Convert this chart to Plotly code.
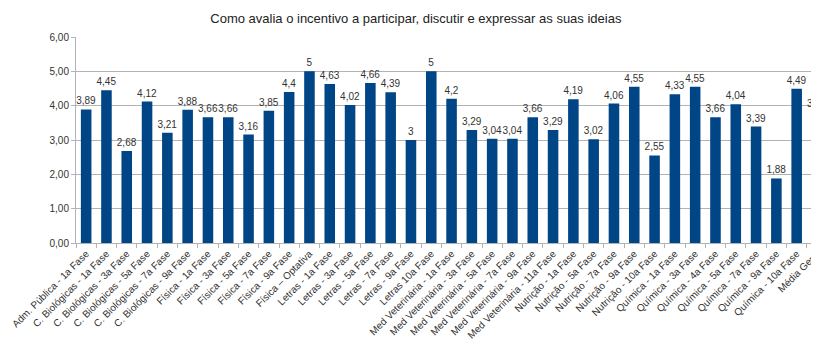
import plotly.graph_objects as go

categories = [
    "Adm. Pública - 1a Fase", "C. Biológicas - 1a Fase", "C. Biológicas - 3a Fase",
    "C. Biológicas - 5a Fase", "C. Biológicas - 7a Fase", "C. Biológicas - 9a Fase",
    "Física - 1a Fase", "Física - 3a Fase", "Física - 5a Fase", "Física - 7a Fase",
    "Física - 9a Fase", "Física – Optativa", "Letras - 1a Fase", "Letras - 3a Fase",
    "Letras - 5a Fase", "Letras - 7a Fase", "Letras - 9a Fase", "Letras 10a Fase",
    "Med Veterinária - 1a Fase", "Med Veterinária - 3a Fase", "Med Veterinária - 5a Fase",
    "Med Veterinária - 7a Fase", "Med Veterinária - 9a Fase", "Med Veterinária - 11a Fase",
    "Nutrição - 1a Fase", "Nutrição - 5a Fase", "Nutrição - 7a Fase", "Nutrição - 9a Fase",
    "Nutrição - 10a Fase", "Química - 1a Fase", "Química - 3a Fase", "Química - 4a Fase",
    "Química - 5a Fase", "Química - 7a Fase", "Química - 9a Fase", "Química - 10a Fase",
    "Média Geral",
]
values = [3.89, 4.45, 2.68, 4.12, 3.21, 3.88, 3.66, 3.66, 3.16, 3.85,
          4.4, 5, 4.63, 4.02, 4.66, 4.39, 3, 5,
          4.2, 3.29, 3.04, 3.04, 3.66, 3.29,
          4.19, 3.02, 4.06, 4.55, 2.55,
          4.33, 4.55, 3.66, 4.04, 3.39, 1.88, 4.49,
          3.81]
y_ticks = [0, 1, 2, 3, 4, 5, 6]

labels = [f"{v:g}".replace(".", ",") for v in values]
font = "Liberation Sans, Arial, sans-serif"

fig = go.Figure(go.Bar(
    x=categories, y=values, text=labels, textposition="outside",
    constraintext="none",
    textfont=dict(family=font, size=10, color="#333333"),
    marker=dict(color="#004586", line=dict(width=0)),
    cliponaxis=False,
))

fig.update_layout(
    width=819, height=340,
    margin=dict(l=68, r=8, t=29, b=105, autoexpand=False),
    paper_bgcolor="white", plot_bgcolor="white",
    separators=",.",
    bargap=0.48,
    showlegend=False,
    title=dict(text="Como avalia o incentivo a participar, discutir e expressar as suas ideias",
               x=0.498, xref="container", xanchor="center", y=0.97, yanchor="middle",
               font=dict(family=font, size=13, color="#222222")),
    font=dict(family=font, color="#333333"),
)
fig.update_xaxes(
    type="category", range=[-0.5, 36.1], automargin=False,
    tickangle=-45, tickfont=dict(size=10, color="#333333"),
    ticks="outside", ticklen=4, tickcolor="#b3b3b3", tickson="boundaries",
    showline=True, linecolor="#b3b3b3", linewidth=1,
    showgrid=False,
)
fig.update_yaxes(
    range=[0, 6], tickvals=y_ticks, tickformat=".2f", automargin=False,
    tickfont=dict(size=10, color="#333333"),
    ticks="outside", ticklen=4, tickcolor="#b3b3b3",
    showgrid=True, gridcolor="#b3b3b3", gridwidth=1,
    showline=True, linecolor="#b3b3b3", linewidth=1,
    zeroline=False,
)

fig.write_html("out.html")
